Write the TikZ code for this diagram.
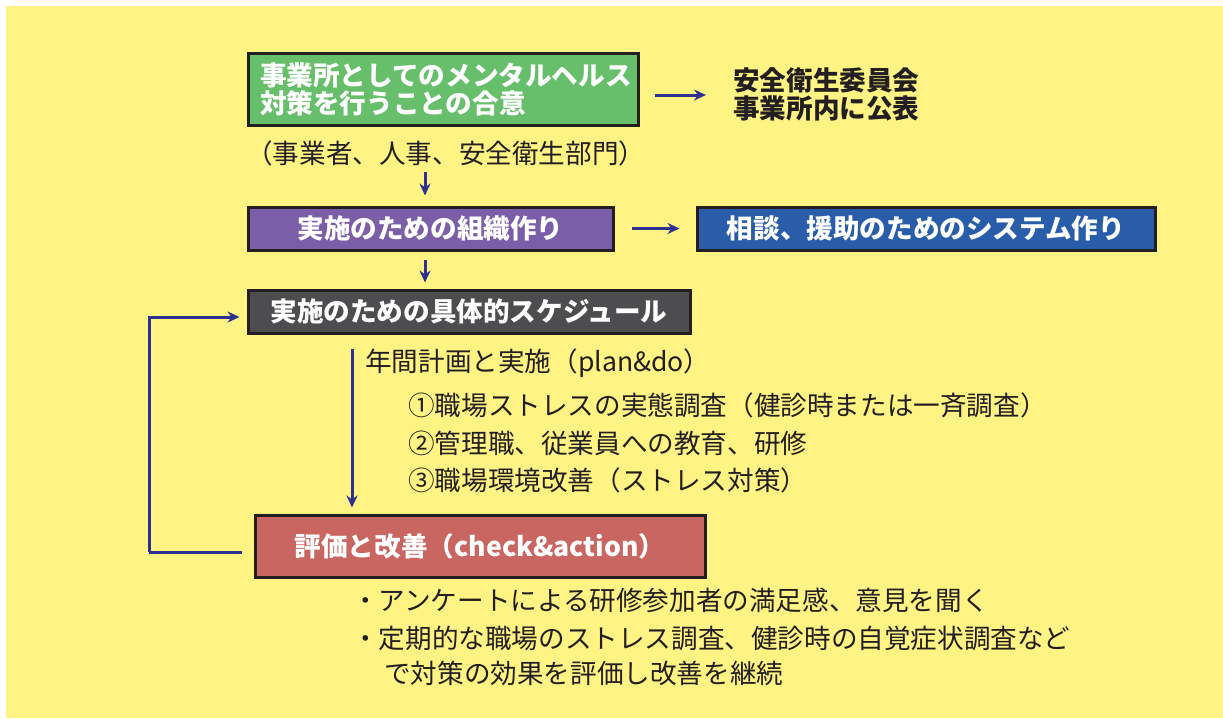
\documentclass[tikz,border=0pt]{standalone}
\usepackage{fontspec}
\setmainfont{Noto Sans CJK JP}
\usetikzlibrary{arrows.meta}
\definecolor{bgyellow}{HTML}{FFF384}
\definecolor{bxgreen}{HTML}{67BF6B}
\definecolor{bxpurple}{HTML}{7B5EA8}
\definecolor{bxblue}{HTML}{295DAA}
\definecolor{bxgray}{HTML}{4D4D4F}
\definecolor{bxred}{HTML}{C96662}
\definecolor{bxline}{HTML}{231F20}
\definecolor{arrnavy}{HTML}{2E3192}
\begin{document}
\begin{tikzpicture}[x=1pt,y=-1pt,
  box/.style={draw=bxline, line width=3pt, text=white, inner sep=0pt,
    font=\fontsize{26.6pt}{28pt}\selectfont\bfseries},
  plain/.style={text=bxline, inner sep=0pt, anchor=west,
    font=\fontsize{26.6pt}{28pt}\selectfont},
  arr/.style={draw=arrnavy, line width=3pt, -{Stealth[length=12pt,width=11pt]}},
  feed/.style={draw=arrnavy, line width=3pt}
]
\useasboundingbox (0,0) rectangle (1223,718);
\fill[white] (0,0) rectangle (1223,718);
\fill[bgyellow] (6,6) rectangle (1223,718);

% boxes
\node[box, fill=bxgreen, minimum width=390pt, minimum height=72pt,
      text width=366pt, align=left] (agree) at (443,89)
  {事業所としてのメンタルヘルス\\対策を行うことの合意};
\node[box, fill=bxpurple, minimum width=365pt, minimum height=43pt] (org) at (430.5,228.5)
  {実施のための組織作り};
\node[box, fill=bxblue, minimum width=458pt, minimum height=43pt] (sys) at (926,228.5)
  {相談、援助のためのシステム作り};
\node[box, fill=bxgray, minimum width=442pt, minimum height=43pt] (sched) at (469,311.5)
  {実施のための具体的スケジュール};
\node[box, fill=bxred, minimum width=450pt, minimum height=62pt] (eval) at (480,546)
  {評価と改善（check\&action）};

% texts
\node[plain, font=\fontsize{26.6pt}{28pt}\selectfont\bfseries, align=left] (pub) at (733,94)
  {安全衛生委員会\\事業所内に公表};
\node[plain] (dept) at (246,153) {（事業者、人事、安全衛生部門）};
\node[plain] (plan) at (365,363) {年間計画と実施（plan\&do）};
\node[plain] (it1) at (408,405) {①職場ストレスの実態調査（健診時または一斉調査）};
\node[plain] (it2) at (408,443) {②管理職、従業員への教育、研修};
\node[plain] (it3) at (408,480) {③職場環境改善（ストレス対策）};
\node[plain] (b1) at (352,600) {・アンケートによる研修参加者の満足感、意見を聞く};
\node[plain] (b2) at (352,638) {・定期的な職場のストレス調査、健診時の自覚症状調査など};
\node[plain] (b3) at (384,673) {で対策の効果を評価し改善を継続};

% connectors
\draw[arr, shorten <=15pt, shorten >=27pt] ([yshift=-6pt]agree.east) -- ([yshift=-6pt]agree.east -| pub.west);
\draw[arr, shorten <=6pt, shorten >=10pt] (dept.south -| 425,0) -- (org.north -| 425,0);
\draw[arr, shorten <=17pt, shorten >=16pt] (org.east) -- (sys.west);
\draw[arr, shorten <=8pt, shorten >=6pt] (org.south -| 425,0) -- (sched.north -| 425,0);
\draw[arr, shorten <=14pt, shorten >=6pt] (sched.south -| 352,0) -- (eval.north -| 352,0);
\coordinate (fbc) at (149,552);
\draw[feed, shorten <=12pt] ([yshift=-6pt]eval.west) -- (fbc);
\draw[arr, shorten >=7pt] (fbc) |- ([yshift=-5.5pt]sched.west);
\end{tikzpicture}
\end{document}
